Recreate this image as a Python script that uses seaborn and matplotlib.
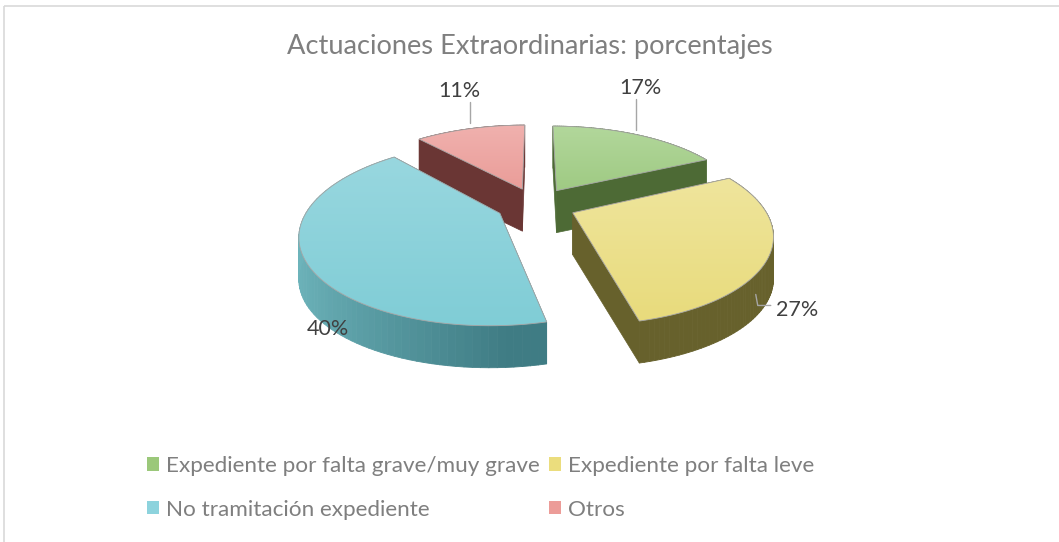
import numpy as np
import matplotlib.pyplot as plt
import seaborn as sns
from matplotlib.patches import Polygon, Rectangle, Patch
from matplotlib.collections import PolyCollection
from matplotlib.colors import LinearSegmentedColormap, to_rgb

# data
values = [17, 27, 40, 11]
names = ["Expediente por falta grave/muy grave", "Expediente por falta leve",
         "No tramitación expediente", "Otros"]
pct_text = ["17%", "27%", "40%", "11%"]

# styles
top_light = ["#b2d79b", "#efe59c", "#98d7df", "#f0b1ae"]
top_dark = ["#9fca83", "#e8db7c", "#80cdd6", "#ea9d99"]
wall_dark = ["#4d6a35", "#67612c", "#3f7c84", "#6a3634"]
wall_light = ["#6f9455", "#8a8240", "#6db4bb", "#8f4a47"]
legend_colors = ["#9bc87a", "#ebdd7d", "#8dd3dd", "#ec9c98"]

sns.set_theme(style="white")
plt.rcParams['font.family'] = ['Lato', 'DejaVu Sans']

W, H = 1059, 542
fig = plt.figure(figsize=(W / 100, H / 100), dpi=100)
ax = fig.add_axes([0, 0, 1, 1])

# fake 3d projection of the pie plane (pixel coords)
cx, cy = 536, 205
a, b, c = 190, 84, 0.216
depth = 42
explode = 0.21


def proj(u, v, z=0.0):
    d = 1 + c * v
    return cx + a * u / d, cy - b * v / d + z


frac = np.array(values) / sum(values)
edges = np.concatenate([[0], np.cumsum(frac)]) * 2 * np.pi

slices = []
for i in range(len(values)):
    t1, t2 = edges[i], edges[i + 1]
    mid = (t1 + t2) / 2
    ox, oy = explode * np.sin(mid), explode * np.cos(mid)
    slices.append((i, t1, t2, mid, ox, oy))

z = 2
anchors = {}
for i, t1, t2, mid, ox, oy in sorted(slices, key=lambda s: -s[5]):
    th = np.linspace(t1, t2, 80)
    rim = [proj(ox + np.sin(t), oy + np.cos(t)) for t in th]
    rim_b = [proj(ox + np.sin(t), oy + np.cos(t), depth) for t in th]
    apex = proj(ox, oy)
    apex_b = proj(ox, oy, depth)

    def radial(k):
        return [apex, rim[k], rim_b[k], apex_b]

    front = []
    for k, nrm in ((0, t1 - np.pi / 2), (-1, t2 + np.pi / 2)):
        if np.cos(nrm) < 0:
            front.append(radial(k))
        else:
            ax.add_patch(Polygon(radial(k), closed=True, facecolor=wall_dark[i],
                                 edgecolor=wall_dark[i], lw=0.5, zorder=z))
    z += 1

    # outer wall, shaded by angle
    quads, cols = [], []
    c0, c1 = np.array(to_rgb(wall_dark[i])), np.array(to_rgb(wall_light[i]))
    for k in range(len(th) - 1):
        quads.append([rim[k], rim[k + 1], rim_b[k + 1], rim_b[k]])
        s = max(0.0, np.cos(th[k] - np.radians(265)))
        cols.append(c0 + (c1 - c0) * s)
    ax.add_collection(PolyCollection(quads, facecolors=cols, edgecolors=cols,
                                     linewidths=0.6, zorder=z))
    z += 1
    for poly in front:
        ax.add_patch(Polygon(poly, closed=True, facecolor=wall_dark[i],
                             edgecolor=wall_dark[i], lw=0.5, zorder=z))
    z += 1

    # top face with soft vertical gradient
    pts = np.array([apex] + rim)
    face = Polygon(pts, closed=True, facecolor="none", edgecolor="#a6a6a6",
                   lw=0.6, zorder=z + 1)
    ax.add_patch(face)
    cmap = LinearSegmentedColormap.from_list("g", [top_light[i], top_dark[i]])
    x0, x1 = pts[:, 0].min(), pts[:, 0].max()
    y0, y1 = pts[:, 1].min(), pts[:, 1].max()
    im = ax.imshow(np.linspace(0, 1, 50).reshape(-1, 1), cmap=cmap,
                   extent=[x0, x1, y1, y0], aspect="auto", zorder=z,
                   interpolation="bilinear")
    im.set_clip_path(face)
    z += 2

    anchors[i] = proj(ox + np.sin(mid), oy + np.cos(mid))

ax.set_xlim(0, W)
ax.set_ylim(H, 0)
ax.axis("off")

# data labels
lab_col = "#404040"
lab_fs = 15.5
gx, gy = anchors[0]
ax.plot([gx, gx], [gy - 5, gy - 36], color="#a6a6a6", lw=1, zorder=z)
ax.text(gx + 4, gy - 41, pct_text[0], ha="center", va="baseline",
        fontsize=lab_fs, color=lab_col)
px, py = anchors[3]
ax.plot([px, px], [py - 6, py - 27], color="#a6a6a6", lw=1, zorder=z)
ax.text(px - 11, py - 32, pct_text[3], ha="center", va="baseline",
        fontsize=lab_fs, color=lab_col)
yx, yy = anchors[1]
ax.plot([yx - 14, yx - 12, yx + 1], [yy + 40, yy + 51, yy + 51],
        color="#a6a6a6", lw=1, zorder=z)
ax.text(yx + 6, yy + 62, pct_text[1], ha="left", va="baseline",
        fontsize=lab_fs, color=lab_col)
bx, by = anchors[2]
ax.text(bx + 24, by + 77, pct_text[2], ha="center", va="baseline",
        fontsize=lab_fs, color=lab_col, zorder=z)

ax.text(530, 54, "Actuaciones Extraordinarias: porcentajes", ha="center",
        va="baseline", fontsize=19.6, color="#7f7f7f")

# legend filled row by row like the original
order = [0, 2, 1, 3]
handles = [Patch(facecolor=legend_colors[k], edgecolor="none") for k in order]
ax.legend(handles, [names[k] for k in order], ncol=2, loc="upper left",
          bbox_to_anchor=(147 / W, 1 - 456 / H), frameon=False, fontsize=16.2,
          labelcolor="#7f7f7f", handlelength=0.55, handleheight=0.55,
          handletextpad=0.3, columnspacing=0.4, labelspacing=1.05,
          borderpad=0, borderaxespad=0)

ax.add_patch(Rectangle((3.5, 5.5), W, H, fill=False, edgecolor="#d9d9d9",
                       lw=1.2, zorder=0))

fig.savefig("out.png", dpi=100)
